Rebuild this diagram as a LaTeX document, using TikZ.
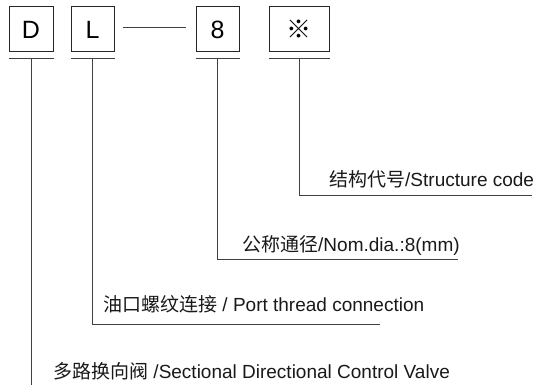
\documentclass[tikz,border=0pt]{standalone}
\usepackage{fontspec}
\setmainfont{Liberation Sans}
\newfontfamily\cjk{Noto Sans CJK SC}
\begin{document}
\begin{tikzpicture}[x=1pt, y=-1pt,
    every node/.style={font=\fontsize{19}{22}\selectfont, inner sep=0pt},
    codebox/.style={draw=black!85, line width=1pt, minimum height=45pt, font=\fontsize{25}{28}\selectfont},
    lead/.style={draw=black!75, line width=0.9pt},
    caption/.style={anchor=base west, text=black!90}]

\useasboundingbox (0,0) rectangle (547,385);

% =============================================
% CASILLAS DEL CODIGO
% =============================================
\node[codebox, minimum width=44pt] (d) at (31,29.5) {D};
\node[codebox, minimum width=43pt] (l) at (92.5,29.5) {L};
\node[codebox, minimum width=43pt] (n) at (217.5,29.5) {8};
\node[codebox, minimum width=60pt] (s) at (299,29.5) {\cjk ※};

% Guion entre L y 8
\coordinate (dashL) at (123,27);
\coordinate (dashR) at (186,27);
\draw[lead] (dashL) -- (dashR);

% Rayas bajo cada casilla
\foreach \b in {d, l, n, s} {
    \draw[lead] ([yshift=-6pt]\b.south west) -- ([yshift=-6pt]\b.south east);
    \coordinate (\b U) at ([yshift=-6pt]\b.south);
}

% =============================================
% TEXTOS
% =============================================
\node[caption] (sT) at (329,187) {{\cjk 结构代号}/Structure code};
\node[caption] (nT) at (242,252) {{\cjk 公称通径}/Nom.dia.:8(mm)};
\node[caption] (lT) at (103,312) {{\cjk 油口螺纹连接} / Port thread connection};
\node[caption] (dT) at (53,378) {{\cjk 多路换向阀} /Sectional Directional Control Valve};

% =============================================
% LINEAS DE REFERENCIA
% =============================================
\coordinate (sEnd) at (532,195);
\coordinate (nEnd) at (458,259);
\coordinate (lEnd) at (380,324);
\coordinate (dEnd) at (31,385);

\draw[lead] (sU) |- (sEnd);
\draw[lead] (nU) |- (nEnd);
\draw[lead] (lU) |- (lEnd);
\draw[lead] (dU) -- (dEnd);

\end{tikzpicture}
\end{document}
